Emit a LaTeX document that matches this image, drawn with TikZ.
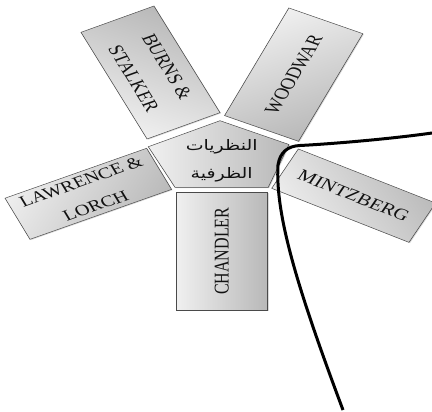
\documentclass[tikz,border=0pt]{standalone}
\usepackage{fontspec}
\setmainfont{Liberation Serif}
\newfontfamily\arabicfont[Script=Arabic]{DejaVu Sans}
\TeXXeTstate=1
\usetikzlibrary{shadows}
\definecolor{edgegray}{HTML}{4A4A4A}
\definecolor{lightgray}{HTML}{F0F0F0}
\definecolor{darkgray}{HTML}{B8B8B8}
\definecolor{ink}{HTML}{111111}
\tikzset{
  shapefill/.style={draw=edgegray, line width=0.6pt, left color=lightgray, right color=darkgray,
    drop shadow={shadow xshift=1pt, shadow yshift=-1pt, opacity=0.3}},
  box/.style={shapefill, text=ink, align=center, inner sep=0pt},
  curveline/.style={line width=3pt, black}
}
\begin{document}
\begin{tikzpicture}[x=1pt,y=-1pt]
\useasboundingbox (0,0) rectangle (432,412);
\begin{scope}[transform canvas={yscale=0.763}]
% outer boxes (drawn unsquashed, then squashed vertically)
\node[box, rotate=-64.7, shading angle=154.7, minimum width=154.6pt, minimum height=80.7pt,
      font=\fontsize{21}{37}\selectfont] (burns) at (150.5,95) {BURNS \&\\STALKER};
\node[box, rotate=65.5, shading angle=24.5, minimum width=155pt, minimum height=81.3pt,
      font=\fontsize{21}{25}\selectfont] (woodwar) at (293.7,97.8) {WOODWAR};
\node[box, rotate=24.8, shading angle=65.2, minimum width=156pt, minimum height=59.4pt,
      font=\fontsize{20.5}{35}\selectfont] (lawrence) at (88.3,254) {LAWRENCE \&\\LORCH};
\node[box, rotate=-27.3, shading angle=117.3, minimum width=154.5pt, minimum height=58pt,
      font=\fontsize{21}{25}\selectfont] (mintzberg) at (353.65,256.45) {MINTZBERG};
\node[box, minimum width=91.7pt, minimum height=153.7pt,
      font=\fontsize{21}{25}\selectfont] (chandler) at (221.85,329.4) {\rotatebox{90}{CHANDLER}};
% centre pentagon
\coordinate (p1) at (220,158.2);
\coordinate (p2) at (289,189.4);
\coordinate (p3) at (268.3,245.5);
\coordinate (p4) at (175,245.5);
\coordinate (p5) at (148.3,192.3);
\path[shapefill] (p1) -- (p2) -- (p3) -- (p4) -- (p5) -- cycle;
\node[text=ink, align=center, inner sep=0pt, font=\arabicfont\fontsize{19}{37}\selectfont]
  (centre) at (221.7,210.8) {\beginR النظريات\endR\\\beginR الظرفية\endR};
\end{scope}
% free curve
\coordinate (c0) at (432,133);
\coordinate (c1) at (300,145.5);
\coordinate (c2) at (278,165);
\coordinate (c3) at (343,410);
\draw[curveline] (c0) .. controls (390,139) and (330,144) .. (c1)
  .. controls (288,146) and (280,152) .. (c2)
  .. controls (275,215) and (298,290) .. (c3);
\end{tikzpicture}
\end{document}
